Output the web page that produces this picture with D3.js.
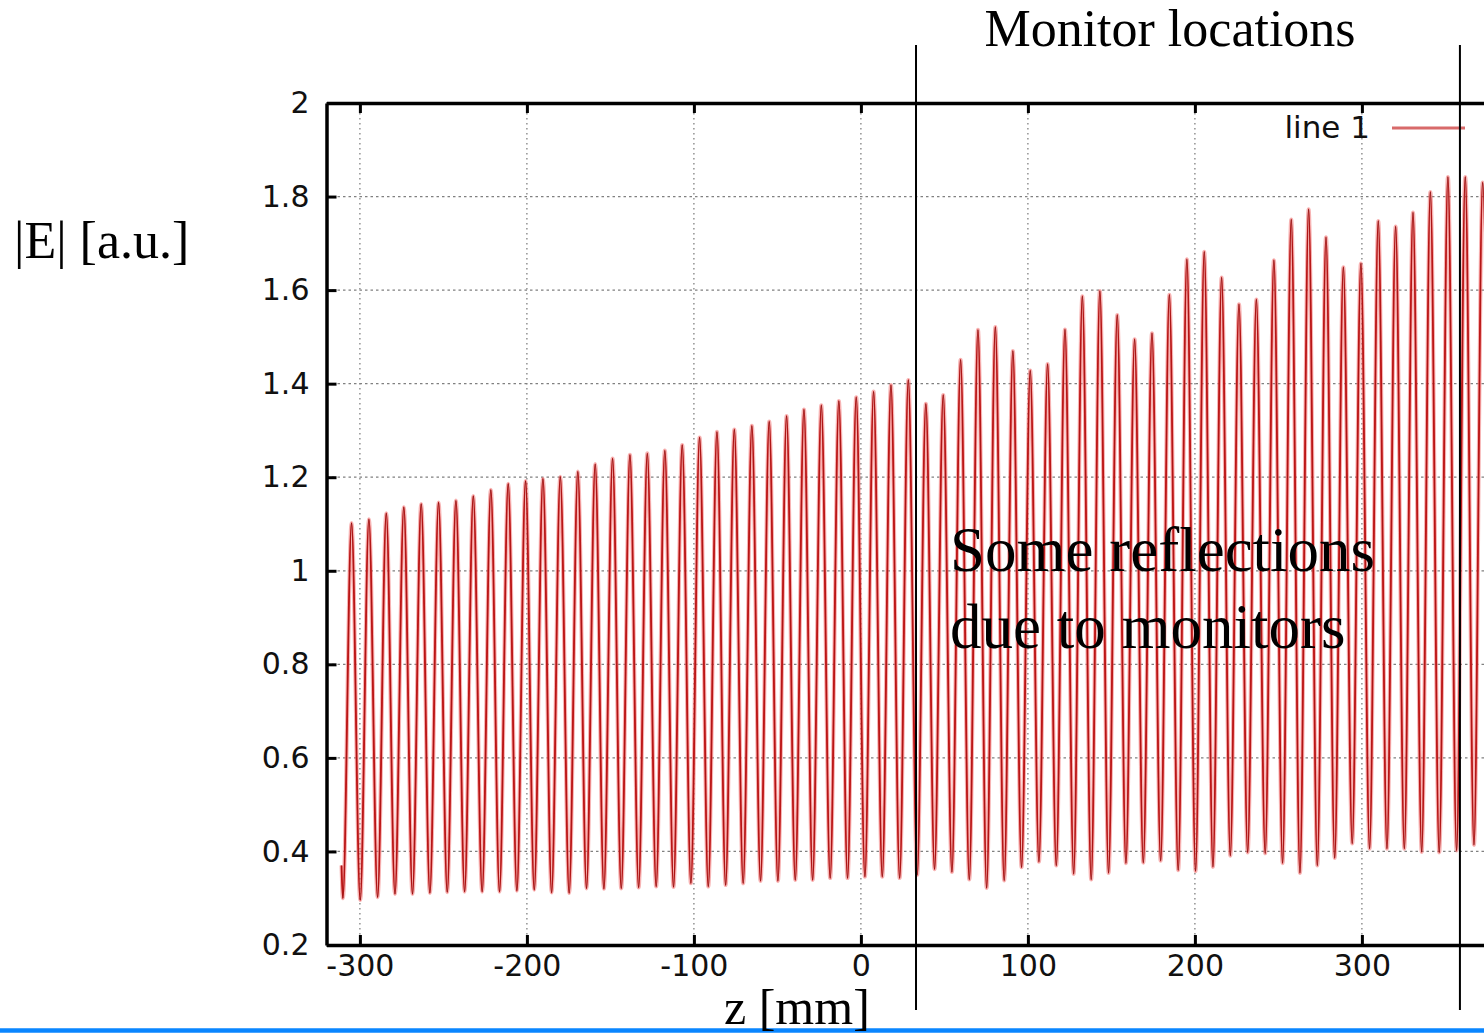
<!DOCTYPE html>
<html>
<head>
<meta charset="utf-8">
<script src="https://cdn.jsdelivr.net/npm/d3@7"></script>
<style>
  html, body { margin: 0; padding: 0; background: #ffffff; }
  svg { display: block; }
</style>
</head>
<body>
<svg id="chart" width="1484" height="1035"></svg>
<script>
// ---------------- data ----------------
const zTicks = [-300, -200, -100, 0, 100, 200, 300];
const zTickLabels = ["-300", "-200", "-100", "0", "100", "200", "300"];
const eTicks = [0.2, 0.4, 0.6, 0.8, 1.0, 1.2, 1.4, 1.6, 1.8, 2.0];
const eTickLabels = ["0.2", "0.4", "0.6", "0.8", "1", "1.2", "1.4", "1.6", "1.8", "2"];

// start of the trace
const startZ = -311.0;
const startE = 0.37;

// maxima of |E|
const peakZ = [-305.0, -294.6, -284.2, -273.7, -263.3, -252.9, -242.5, -232.1, -221.6, -211.2,
  -200.8, -190.4, -180.0, -169.5, -159.1, -148.7, -138.3, -127.9, -117.4, -107.0,
  -96.6, -86.2, -75.8, -65.3, -54.9, -44.5, -34.1, -23.7, -13.2, -2.8,
  7.6, 18.0, 28.4, 38.9, 49.3, 59.7, 70.1, 80.5, 91.0, 101.4,
  111.8, 122.2, 132.6, 143.1, 153.5, 163.9, 174.3, 184.7, 195.2, 205.6,
  216.0, 226.4, 236.8, 247.3, 257.7, 268.1, 278.5, 288.9, 299.4, 309.8,
  320.2, 330.6, 341.0, 351.5, 361.9, 372.3];
const peakE = [1.102, 1.110, 1.123, 1.136, 1.143, 1.146, 1.150, 1.160, 1.173, 1.186,
  1.192, 1.197, 1.201, 1.212, 1.228, 1.240, 1.248, 1.251, 1.257, 1.269,
  1.285, 1.297, 1.302, 1.310, 1.319, 1.331, 1.345, 1.354, 1.363, 1.371,
  1.383, 1.397, 1.408, 1.357, 1.376, 1.451, 1.515, 1.521, 1.470, 1.428,
  1.442, 1.516, 1.587, 1.598, 1.547, 1.495, 1.508, 1.590, 1.666, 1.682,
  1.627, 1.570, 1.580, 1.664, 1.751, 1.773, 1.713, 1.649, 1.657, 1.748,
  1.736, 1.766, 1.810, 1.842, 1.842, 1.830];

// minima of |E|
const troughZ = [-310.2, -299.8, -289.4, -279.0, -268.5, -258.1, -247.7, -237.3, -226.8, -216.4,
  -206.0, -195.6, -185.2, -174.7, -164.3, -153.9, -143.5, -133.1, -122.6, -112.2,
  -101.8, -91.4, -81.0, -70.5, -60.1, -49.7, -39.3, -28.9, -18.4, -8.0,
  2.4, 12.8, 23.2, 33.7, 44.1, 54.5, 64.9, 75.3, 85.8, 96.2,
  106.6, 117.0, 127.4, 137.9, 148.3, 158.7, 169.1, 179.5, 190.0, 200.4,
  210.8, 221.2, 231.6, 242.1, 252.5, 262.9, 273.3, 283.7, 294.2, 304.6,
  315.0, 325.4, 335.8, 346.3, 356.7, 367.1, 377.5];
const troughE = [0.300, 0.296, 0.302, 0.309, 0.309, 0.311, 0.313, 0.314, 0.314, 0.314,
  0.316, 0.318, 0.312, 0.311, 0.321, 0.320, 0.321, 0.323, 0.325, 0.324,
  0.332, 0.325, 0.328, 0.332, 0.337, 0.337, 0.339, 0.339, 0.343, 0.343,
  0.346, 0.346, 0.343, 0.350, 0.362, 0.356, 0.340, 0.322, 0.338, 0.366,
  0.378, 0.370, 0.352, 0.340, 0.354, 0.375, 0.376, 0.380, 0.360, 0.358,
  0.367, 0.391, 0.398, 0.396, 0.375, 0.354, 0.370, 0.386, 0.417, 0.406,
  0.406, 0.406, 0.399, 0.398, 0.402, 0.414, 0.400];

const monitorZ = [33.0, 358.7];
const seriesName = "line 1";

// ---------------- build ----------------
const svg = d3.select("#chart");
const W = 1484, H = 1035;

const x = d3.scaleLinear().domain([-320, 400]).range([326.5, 326.5 + 720 * 1.67]);
const y = d3.scaleLinear().domain([0.2, 2.0]).range([945, 103]);

// points: start, then alternating trough/peak
const pts = [[startZ, startE]];
for (let i = 0; i < troughZ.length; i++) {
  pts.push([troughZ[i], troughE[i]]);
  if (i < peakZ.length) pts.push([peakZ[i], peakE[i]]);
}

svg.append("defs").append("clipPath").attr("id", "plotclip")
  .append("rect")
  .attr("x", x(-320)).attr("y", y(2.0))
  .attr("width", x(400) - x(-320)).attr("height", y(0.2) - y(2.0));

// grid
const grid = svg.append("g").attr("class", "grid");
grid.selectAll("line.gx").data(zTicks).enter().append("line")
  .attr("x1", d => x(d)).attr("x2", d => x(d))
  .attr("y1", y(2.0)).attr("y2", y(0.2))
  .attr("stroke", "#808080").attr("stroke-width", 1.3)
  .attr("stroke-dasharray", "1.5,3.5");
grid.selectAll("line.gy").data(eTicks.filter(d => d > 0.2 && d < 2.0)).enter().append("line")
  .attr("x1", x(-320)).attr("x2", W)
  .attr("y1", d => y(d)).attr("y2", d => y(d))
  .attr("stroke", "#808080").attr("stroke-width", 1.3)
  .attr("stroke-dasharray", "2.5,3");

// curve
const line = d3.line()
  .x(d => x(d[0])).y(d => y(d[1]))
  .curve(d3.curveMonotoneX);

const plot = svg.append("g").attr("clip-path", "url(#plotclip)");
plot.append("path").datum(pts)
  .attr("d", line)
  .attr("fill", "none")
  .attr("stroke", "#f06a6a")
  .attr("stroke-opacity", 0.5)
  .attr("stroke-width", 4);
plot.append("path").datum(pts)
  .attr("d", line)
  .attr("fill", "none")
  .attr("stroke", "#d41c1c")
  .attr("stroke-width", 1.9);
plot.append("path").datum(pts)
  .attr("d", line)
  .attr("fill", "none")
  .attr("stroke", "#5a0a0a")
  .attr("stroke-opacity", 0.45)
  .attr("stroke-width", 0.8);

// axes
const tickFont = "'DejaVu Sans', sans-serif";
function styleAxis(g) {
  g.select(".domain").attr("stroke", "#000").attr("stroke-width", 3.5);
  g.selectAll(".tick line").attr("stroke", "#000").attr("stroke-width", 3);
  g.selectAll(".tick text").attr("fill", "#111")
    .style("font-family", tickFont).style("font-size", "30px");
}

const yAxis = d3.axisLeft(y).tickValues(eTicks)
  .tickFormat((d, i) => eTickLabels[i])
  .tickSizeInner(-10).tickSizeOuter(0).tickPadding(17);
svg.append("g").attr("transform", `translate(${x(-320)},0)`).call(yAxis).call(styleAxis);

const xAxis = d3.axisBottom(x).tickValues(zTicks)
  .tickFormat((d, i) => zTickLabels[i])
  .tickSizeInner(-10).tickSizeOuter(0).tickPadding(10);
svg.append("g").attr("transform", `translate(0,${y(0.2)})`).call(xAxis).call(styleAxis);

const xAxisTop = d3.axisTop(x).tickValues(zTicks)
  .tickFormat("")
  .tickSizeInner(-10).tickSizeOuter(0);
svg.append("g").attr("transform", `translate(0,${y(2.0)})`).call(xAxisTop).call(styleAxis);

// legend
svg.append("text")
  .attr("x", 1370).attr("y", 138)
  .attr("text-anchor", "end")
  .style("font-family", tickFont).style("font-size", "31px")
  .attr("fill", "#111")
  .text(seriesName);
svg.append("line")
  .attr("x1", 1392).attr("x2", 1465).attr("y1", 128).attr("y2", 128)
  .attr("stroke", "#d86a6a").attr("stroke-width", 3);

// monitor lines
svg.selectAll("line.mon").data(monitorZ).enter().append("line")
  .attr("x1", d => x(d)).attr("x2", d => x(d))
  .attr("y1", 45).attr("y2", 1010)
  .attr("stroke", "#000").attr("stroke-width", 2);

// blue rule at bottom
svg.append("line")
  .attr("x1", 0).attr("x2", W).attr("y1", 1030.5).attr("y2", 1030.5)
  .attr("stroke", "#0a86ff").attr("stroke-width", 4.5);

// serif annotations
const serif = "'Liberation Serif', 'Times New Roman', serif";
svg.append("text").attr("x", 1170).attr("y", 46).attr("text-anchor", "middle")
  .style("font-family", serif).style("font-size", "52px").attr("fill", "#000")
  .text("Monitor locations");
svg.append("text").attr("x", 14).attr("y", 258)
  .style("font-family", serif).style("font-size", "52px").attr("fill", "#000")
  .text("|E| [a.u.]");
svg.append("text").attr("x", 724).attr("y", 1024)
  .style("font-family", serif).style("font-size", "50px").attr("fill", "#000")
  .text("z [mm]");
svg.append("text").attr("x", 950).attr("y", 571)
  .style("font-family", serif).style("font-size", "63px").attr("fill", "#000")
  .text("Some reflections");
svg.append("text").attr("x", 950).attr("y", 648)
  .style("font-family", serif).style("font-size", "63px").attr("fill", "#000")
  .text("due to monitors");
</script>
</body>
</html>
